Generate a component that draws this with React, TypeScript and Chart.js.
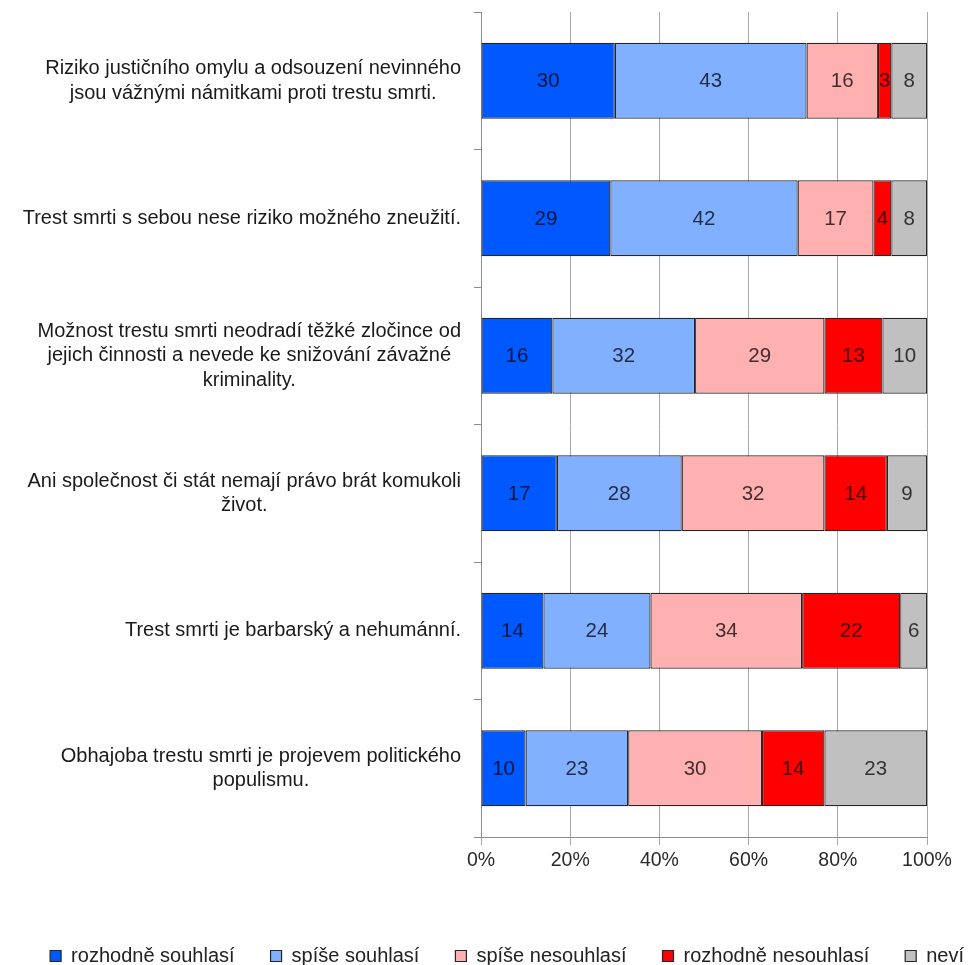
import { useEffect, useRef } from 'react';
import { Chart, registerables } from 'chart.js';

Chart.register(...registerables);

const categories: string[][] = [
  ['Riziko justičního omylu a odsouzení nevinného', 'jsou vážnými námitkami proti trestu smrti.'],
  ['Trest smrti s sebou nese riziko možného zneužití.'],
  ['Možnost trestu smrti neodradí těžké zločince od', 'jejich činnosti a nevede ke snižování závažné', 'kriminality.'],
  ['Ani společnost či stát nemají právo brát komukoli', 'život.'],
  ['Trest smrti je barbarský a nehumánní.'],
  ['Obhajoba trestu smrti je projevem politického', 'populismu.'],
];

const seriesNames = ['rozhodně souhlasí', 'spíše souhlasí', 'spíše nesouhlasí', 'rozhodně nesouhlasí', 'neví'];
const rozhodneSouhlasi = [30, 29, 16, 17, 14, 10];
const spiseSouhlasi = [43, 42, 32, 28, 24, 23];
const spiseNesouhlasi = [16, 17, 29, 32, 34, 30];
const rozhodneNesouhlasi = [3, 4, 13, 14, 22, 14];
const nevi = [8, 8, 10, 9, 6, 23];
const seriesColors = ['#0058ff', '#80b0ff', '#ffb0b0', '#ff0000', '#c0c0c0'];
const xTickMin = 0;
const xTickMax = 100;
const xTickStep = 20;

const FONT = '"Liberation Sans", Arial, Helvetica, sans-serif';

const yLabelPlugin = {
  id: 'yLabelsCentered',
  afterDraw(chart: any) {
    const ctx = chart.ctx as CanvasRenderingContext2D;
    const ys = chart.scales.y;
    ctx.save();
    ctx.font = `20px ${FONT}`;
    ctx.fillStyle = '#1a1a1a';
    ctx.textAlign = 'center';
    ctx.textBaseline = 'middle';
    const right = ys.right - 20;
    const lh = 24.5;
    (chart.data.labels as string[][]).forEach((lines, i) => {
      const cy = ys.getPixelForValue(i);
      const w = Math.max(...lines.map((l) => ctx.measureText(l).width));
      const cx = right - w / 2;
      lines.forEach((l, j) => {
        ctx.fillText(l, cx, cy + (j - (lines.length - 1) / 2) * lh);
      });
    });
    ctx.restore();
  },
};

const dataLabelPlugin = {
  id: 'barValues',
  afterDatasetsDraw(chart: any) {
    const ctx = chart.ctx as CanvasRenderingContext2D;
    ctx.save();
    ctx.font = `20.5px ${FONT}`;
    ctx.fillStyle = 'rgba(0,0,0,0.75)';
    ctx.textAlign = 'center';
    ctx.textBaseline = 'middle';
    chart.data.datasets.forEach((ds: any, di: number) => {
      const meta = chart.getDatasetMeta(di);
      meta.data.forEach((el: any, i: number) => {
        const p = el.getCenterPoint();
        ctx.fillText(String(ds.data[i]), p.x, p.y + 1);
      });
    });
    ctx.restore();
  },
};

export default function App() {
  const ref = useRef<HTMLCanvasElement | null>(null);

  useEffect(() => {
    document.body.style.margin = '0';
    if (!ref.current) return;
    const values = [rozhodneSouhlasi, spiseSouhlasi, spiseNesouhlasi, rozhodneNesouhlasi, nevi];
    const chart = new Chart(ref.current, {
      type: 'bar',
      data: {
        labels: categories as any,
        datasets: values.map((v, i) => ({
          label: seriesNames[i],
          data: v,
          backgroundColor: seriesColors[i],
          borderColor: '#262626',
          borderWidth: 1.2,
          borderSkipped: false,
          barPercentage: 0.553,
          categoryPercentage: 1,
          yAxisID: 'y',
          xAxisID: 'x',
        })),
      },
      options: {
        indexAxis: 'y',
        responsive: false,
        animation: false,
        layout: { padding: { top: 12, left: 0, right: 0, bottom: 0 } },
        scales: {
          x: {
            stacked: true,
            min: xTickMin,
            max: xTickMax,
            ticks: {
              stepSize: xTickStep,
              callback: (v: any) => `${v}%`,
              color: '#2a2a2a',
              font: { family: FONT, size: 19.5 },
              padding: 4,
            },
            grid: { color: '#a8a8a8', lineWidth: 1, tickLength: 8, tickColor: '#a8a8a8' },
            border: { display: true, color: '#8c8c8c' },
            afterFit: (s: any) => {
              s.height = 73;
            },
          },
          y: {
            stacked: true,
            ticks: { display: false },
            grid: { drawOnChartArea: false, tickLength: 7, color: '#8c8c8c', offset: true },
            border: { display: true, color: '#8c8c8c' },
            afterFit: (s: any) => {
              s.width = 481;
            },
          },
          y2: {
            type: 'category',
            position: 'right',
            display: true,
            ticks: { display: false },
            grid: { display: false },
            border: { display: false },
            afterFit: (s: any) => {
              s.width = 73;
            },
          },
        } as any,
        plugins: {
          legend: {
            display: true,
            position: 'bottom',
            align: 'end',
            labels: {
              boxWidth: 11,
              boxHeight: 11,
              padding: 36,
              color: '#222',
              font: { family: FONT, size: 20 },
            },
          },
          tooltip: { enabled: false },
        },
      },
      plugins: [yLabelPlugin, dataLabelPlugin],
    });
    return () => chart.destroy();
  }, []);

  return (
    <div style={{ width: 968, height: 965, overflow: 'hidden', background: '#fff' }}>
      <canvas ref={ref} width={1000} height={976} style={{ display: 'block' }} />
    </div>
  );
}
